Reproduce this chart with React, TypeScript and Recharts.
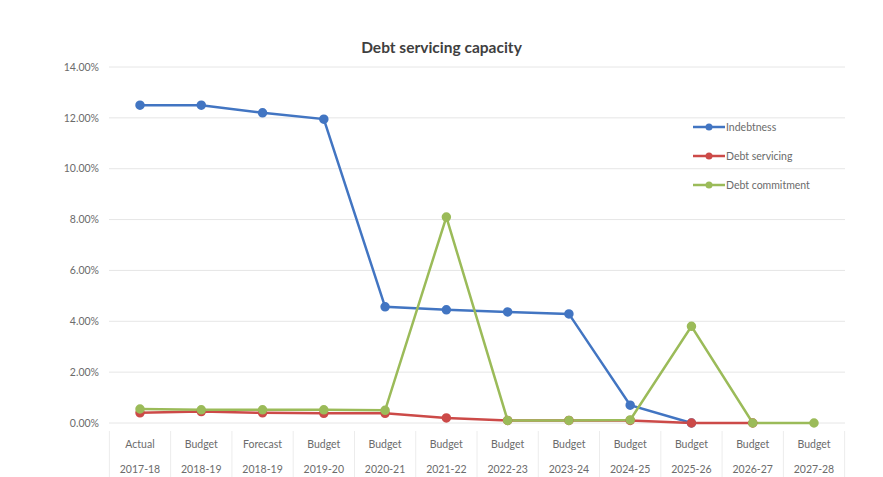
import React from 'react'
import { LineChart, Line, XAxis, YAxis, CartesianGrid } from 'recharts'

const periodTypes = ['Actual', 'Budget', 'Forecast', 'Budget', 'Budget', 'Budget', 'Budget', 'Budget', 'Budget', 'Budget', 'Budget', 'Budget']
const years = ['2017-18', '2018-19', '2018-19', '2019-20', '2020-21', '2021-22', '2022-23', '2023-24', '2024-25', '2025-26', '2026-27', '2027-28']

// values in percent
const indebtness = [12.5, 12.5, 12.2, 11.95, 4.57, 4.45, 4.37, 4.29, 0.7, 0, null, null]
const debtServicing = [0.4, 0.45, 0.4, 0.38, 0.38, 0.2, 0.1, 0.1, 0.1, 0, 0, null]
const debtCommitment = [0.55, 0.52, 0.52, 0.52, 0.5, 8.1, 0.1, 0.1, 0.12, 3.8, 0, 0]

const yTicks = [0, 2, 4, 6, 8, 10, 12, 14]

const data = years.map((y, i) => ({
  key: i,
  type: periodTypes[i],
  year: y,
  indebtness: indebtness[i],
  servicing: debtServicing[i],
  commitment: debtCommitment[i],
}))

const BLUE = '#4275c2'
const RED = '#cc4a48'
const GREEN = '#9bbb59'
const FONT = 'Lato, "Open Sans", sans-serif'

const series = [
  { key: 'indebtness', name: 'Indebtness', color: BLUE },
  { key: 'servicing', name: 'Debt servicing', color: RED },
  { key: 'commitment', name: 'Debt commitment', color: GREEN },
]

const WIDTH = 883
const HEIGHT = 477
const PLOT_LEFT = 109
const PLOT_RIGHT = 845
const PAD = 31
const STEP = (PLOT_RIGHT - PLOT_LEFT - 2 * PAD) / (years.length - 1)

function CategoryTick(props: any) {
  const { x, y, payload, index } = props
  const d = data[payload.value]
  return (
    <g>
      {index === 0 && (
        <line x1={x - STEP / 2} x2={x - STEP / 2} y1={y} y2={y + 50} stroke="#ececec" />
      )}
      <line x1={x + STEP / 2} x2={x + STEP / 2} y1={y} y2={y + 50} stroke="#ececec" />
      <text x={x} y={y + 17} textAnchor="middle" fill="#6b6b6b" fontSize={10.5} fontFamily={FONT}>
        {d.type}
      </text>
      <text x={x} y={y + 42} textAnchor="middle" fill="#6b6b6b" fontSize={10.5} fontFamily={FONT}>
        {d.year}
      </text>
    </g>
  )
}

function LegendBox() {
  return (
    <div style={{ position: 'absolute', top: 118, left: 693, display: 'flex', flexDirection: 'column', gap: 12 }}>
      {series.map((s) => (
        <div key={s.key} style={{ display: 'flex', alignItems: 'center', height: 17 }}>
          <svg width={32} height={10}>
            <line x1={0} x2={32} y1={5} y2={5} stroke={s.color} strokeWidth={2.5} />
            <circle cx={16} cy={5} r={3.5} fill={s.color} />
          </svg>
          <span style={{ fontFamily: FONT, fontSize: 10.5, color: '#6b6b6b', marginLeft: 1 }}>{s.name}</span>
        </div>
      ))}
    </div>
  )
}

export default function App() {
  return (
    <div style={{ position: 'absolute', left: 0, top: 0, width: WIDTH, height: HEIGHT, background: '#fff' }}>
      <div
        style={{
          position: 'absolute',
          top: 38,
          left: 0,
          width: WIDTH,
          textAlign: 'center',
          fontFamily: FONT,
          fontWeight: 700,
          fontSize: 15.5,
          color: '#3f3f3f',
        }}
      >
        Debt servicing capacity
      </div>
      <LineChart
        width={WIDTH}
        height={HEIGHT}
        data={data}
        margin={{ top: 67, right: WIDTH - PLOT_RIGHT, bottom: 4, left: 0 }}
      >
        <CartesianGrid horizontal vertical={false} stroke="#e6e6e6" />
        <XAxis
          dataKey="key"
          type="category"
          padding={{ left: PAD, right: PAD }}
          height={50}
          axisLine={false}
          tickLine={false}
          interval={0}
          tick={<CategoryTick />}
        />
        <YAxis
          width={PLOT_LEFT}
          domain={[0, 14]}
          ticks={yTicks}
          axisLine={false}
          tickLine={false}
          tickSize={0}
          tickMargin={10}
          tickFormatter={(v: number) => `${v.toFixed(2)}%`}
          tick={{ fill: '#6b6b6b', fontSize: 10.5, fontFamily: FONT }}
        />
        {series.map((s) => (
          <Line
            key={s.key}
            dataKey={s.key}
            name={s.name}
            stroke={s.color}
            strokeWidth={2.5}
            dot={{ r: 3.5, fill: s.color, stroke: s.color }}
            isAnimationActive={false}
          />
        ))}
      </LineChart>
      <LegendBox />
    </div>
  )
}
